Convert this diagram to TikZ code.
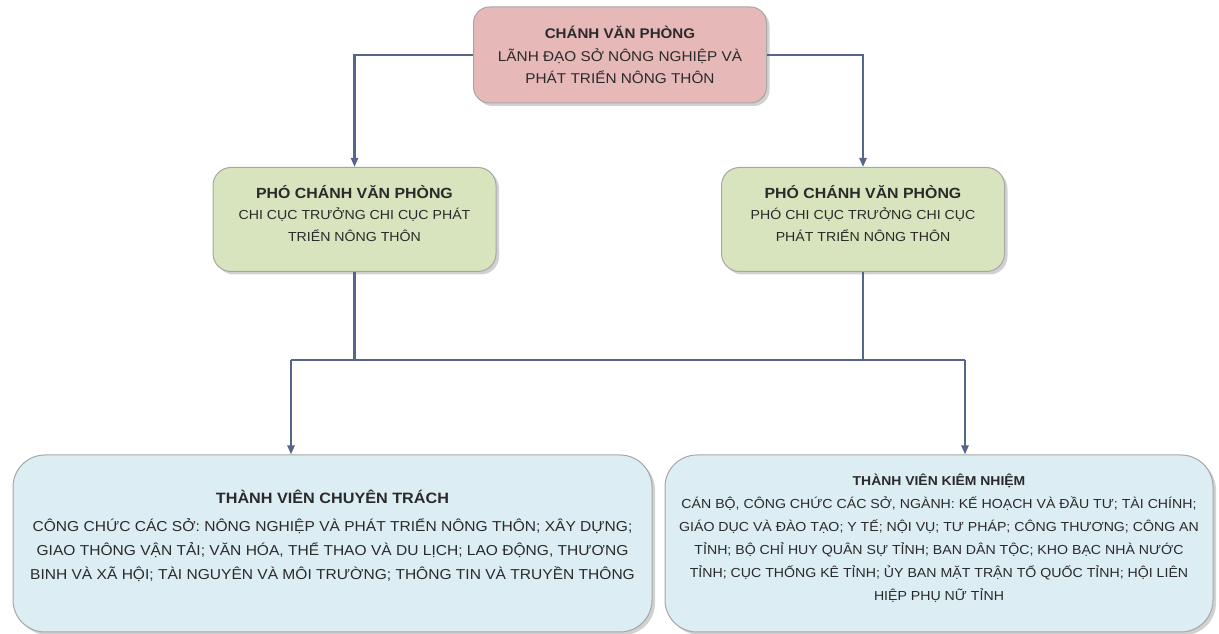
\documentclass[tikz,border=0pt]{standalone}
\usepackage{fontspec}
\setmainfont{Liberation Sans}[FakeStretch=1.08]
\usepackage{xcolor}
\usetikzlibrary{positioning,arrows.meta,calc,shadows}
\definecolor{headfill}{HTML}{E6B9B8}
\definecolor{depfill}{HTML}{D7E4BD}
\definecolor{memfill}{HTML}{DCEEF4}
\definecolor{boxline}{HTML}{A6A6A6}
\definecolor{connline}{HTML}{56658A}
\definecolor{txt}{HTML}{2A2A2A}
\newcommand{\boxtitle}[2]{{\fontsize{#1}{#1}\selectfont\textbf{#2}}}

\begin{document}
\begin{tikzpicture}[
    x=1pt, y=1pt,
    org_box/.style={draw=boxline, line width=1pt, text=txt, align=center, inner sep=4pt,
        drop shadow={shadow xshift=3pt, shadow yshift=-3pt, opacity=0.45, fill=gray!80}},
    head_box/.style={org_box, fill=headfill, rounded corners=16pt, minimum width=293pt, minimum height=96pt,
        font=\fontsize{14.2}{22.5}\selectfont},
    dep_box/.style={org_box, fill=depfill, rounded corners=18pt, minimum width=283pt, minimum height=104pt,
        font=\fontsize{13.1}{21.5}\selectfont},
    mem_box/.style={org_box, fill=memfill, rounded corners=32pt, minimum height=177pt},
    conn/.style={draw=connline, line width=2.2pt},
    arrow/.style={conn, -{Triangle[length=9pt, width=7pt]}}
]
\useasboundingbox (0,0) rectangle (1219,634);

\node (head) [head_box] at (620,579)
    {\boxtitle{14}{CHÁNH VĂN PHÒNG}\\LÃNH ĐẠO SỞ NÔNG NGHIỆP VÀ\\PHÁT TRIỂN NÔNG THÔN};

\node (dep_left)  [dep_box] at (354.5,414.5)
    {\boxtitle{14.7}{PHÓ CHÁNH VĂN PHÒNG}\\CHI CỤC TRƯỞNG CHI CỤC PHÁT\\TRIỂN NÔNG THÔN\\[-9pt]};

\node (dep_right) [dep_box] at (863,414.5)
    {\boxtitle{14.7}{PHÓ CHÁNH VĂN PHÒNG}\\PHÓ CHI CỤC TRƯỞNG CHI CỤC\\PHÁT TRIỂN NÔNG THÔN\\[-9pt]};

\node (mem_full) [mem_box, minimum width=639pt, font=\fontsize{14.4}{24}\selectfont] at (332.5,90.5)
    {\boxtitle{15}{THÀNH VIÊN CHUYÊN TRÁCH}\\[4pt]
     CÔNG CHỨC CÁC SỞ: NÔNG NGHIỆP VÀ PHÁT TRIỂN NÔNG THÔN; XÂY DỰNG;\\
     GIAO THÔNG VẬN TẢI; VĂN HÓA, THỂ THAO VÀ DU LỊCH; LAO ĐỘNG, THƯƠNG\\
     BINH VÀ XÃ HỘI; TÀI NGUYÊN VÀ MÔI TRƯỜNG; THÔNG TIN VÀ TRUYỀN THÔNG\\[-7pt]};

\node (mem_part) [mem_box, minimum width=548pt, font=\fontsize{13.1}{23}\selectfont] at (939,90.5)
    {\boxtitle{12.9}{THÀNH VIÊN KIÊM NHIỆM}\\
     CÁN BỘ, CÔNG CHỨC CÁC SỞ, NGÀNH: KẾ HOẠCH VÀ ĐẦU TƯ; TÀI CHÍNH;\\
     GIÁO DỤC VÀ ĐÀO TẠO; Y TẾ; NỘI VỤ; TƯ PHÁP; CÔNG THƯƠNG; CÔNG AN\\
     TỈNH; BỘ CHỈ HUY QUÂN SỰ TỈNH; BAN DÂN TỘC; KHO BẠC NHÀ NƯỚC\\
     TỈNH; CỤC THỐNG KÊ TỈNH; ỦY BAN MẶT TRẬN TỔ QUỐC TỈNH; HỘI LIÊN\\
     HIỆP PHỤ NỮ TỈNH\\[-11pt]};

% bus between the two levels
\coordinate (bus_left)  at (291,274);
\coordinate (bus_right) at (965,274);

\draw [arrow] (head.west) -| (dep_left.north);
\draw [arrow] (head.east) -| (dep_right.north);

\draw [conn] (dep_left.south)  -- (dep_left.south |- bus_left);
\draw [conn] (dep_right.south) -- (dep_right.south |- bus_right);
\draw [conn] (bus_left) -- (bus_right);
\draw [arrow] (bus_left)  -- (bus_left |- mem_full.north);
\draw [arrow] (bus_right) -- (bus_right |- mem_part.north);

\end{tikzpicture}
\end{document}
